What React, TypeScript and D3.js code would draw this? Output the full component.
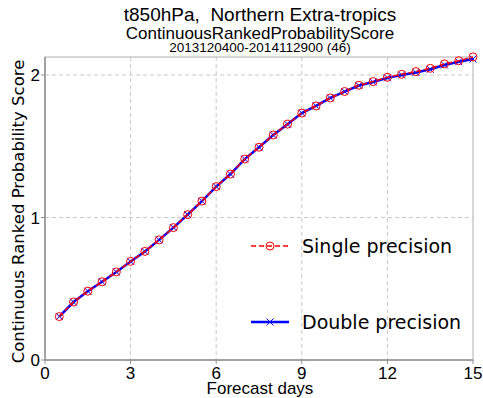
import React from 'react';
import * as d3 from 'd3';

const days = [0.5, 1, 1.5, 2, 2.5, 3, 3.5, 4, 4.5, 5, 5.5, 6, 6.5, 7, 7.5, 8, 8.5, 9, 9.5, 10, 10.5, 11, 11.5, 12, 12.5, 13, 13.5, 14, 14.5, 15];
const singlePrec = [0.305, 0.407, 0.483, 0.549, 0.618, 0.692, 0.762, 0.843, 0.929, 1.02, 1.115, 1.217, 1.305, 1.41, 1.493, 1.579, 1.655, 1.733, 1.783, 1.839, 1.884, 1.928, 1.954, 1.984, 2.005, 2.024, 2.047, 2.078, 2.1, 2.127];
const doublePrec = [0.305, 0.407, 0.483, 0.549, 0.618, 0.692, 0.762, 0.843, 0.929, 1.02, 1.115, 1.217, 1.305, 1.41, 1.493, 1.579, 1.655, 1.733, 1.783, 1.839, 1.884, 1.926, 1.951, 1.98, 2.0, 2.018, 2.04, 2.07, 2.093, 2.112];
const xTicks = [0, 3, 6, 9, 12, 15];
const yTicks = [0, 1, 2];

const W = 483;
const H = 398;
const M = { left: 45, right: 10, top: 57, bottom: 38 };

export default function App() {
  const x = d3.scaleLinear().domain([0, 15]).range([M.left, W - M.right]);
  const y = d3.scaleLinear().domain([0, 2]).range([H - M.bottom, 75]);
  const yTop = M.top;
  const yBot = H - M.bottom;
  const line = d3.line<number>().x((_, i) => x(days[i])).y((d) => y(d));
  const sans = 'Liberation Sans, Arial, sans-serif';
  const dv = 'DejaVu Sans, sans-serif';

  return (
    <svg width={W} height={H} style={{ position: 'absolute', left: 0, top: 0 }}>
      <rect width={W} height={H} fill="white" />
      {/* grid */}
      {xTicks.slice(1, -1).map((t) => (
        <line key={'gx' + t} x1={x(t)} x2={x(t)} y1={yTop} y2={yBot} stroke="#c8c8c8" strokeDasharray="4,3" strokeWidth={1} />
      ))}
      {yTicks.slice(1).map((t) => (
        <line key={'gy' + t} x1={x(0)} x2={x(15)} y1={y(t)} y2={y(t)} stroke="#c8c8c8" strokeDasharray="4,3" strokeWidth={1} />
      ))}
      {/* frame */}
      <rect x={x(0)} y={yTop} width={x(15) - x(0)} height={yBot - yTop} fill="none" stroke="#b0b0b0" strokeWidth={1} />
      <line x1={x(0)} x2={x(0)} y1={yTop} y2={yBot} stroke="#909090" strokeWidth={1.5} />
      <line x1={x(0)} x2={x(15)} y1={yBot} y2={yBot} stroke="#909090" strokeWidth={1.5} />
      {/* ticks */}
      {xTicks.map((t) => (
        <g key={'tx' + t}>
          <line x1={x(t)} x2={x(t)} y1={yBot} y2={yBot + 4} stroke="#909090" />
          <text x={x(t)} y={yBot + 19} textAnchor="middle" fontFamily={sans} fontSize={17} fill="#000">{t}</text>
        </g>
      ))}
      {yTicks.map((t) => (
        <g key={'ty' + t}>
          <line x1={x(0) - 4} x2={x(0)} y1={y(t)} y2={y(t)} stroke="#909090" />
          <text x={x(0) - 5} y={y(t) + 6} textAnchor="end" fontFamily={sans} fontSize={17} fill="#000">{t}</text>
        </g>
      ))}
      {/* series */}
      <path d={line(doublePrec) || ''} fill="none" stroke="#0000ff" strokeWidth={2.5} />
      {doublePrec.map((v, i) => (
        <path key={'dx' + i} d={`M${x(days[i]) - 3.5},${y(v) - 3.5}l7,7M${x(days[i]) - 3.5},${y(v) + 3.5}l7,-7`} stroke="#0000ff" strokeWidth={1} />
      ))}
      <path d={line(singlePrec) || ''} fill="none" stroke="#ff0000" strokeWidth={1.5} strokeDasharray="5,3" />
      {singlePrec.map((v, i) => (
        <circle key={'sc' + i} cx={x(days[i])} cy={y(v)} r={4} fill="none" stroke="#ff0000" strokeWidth={1} />
      ))}
      {/* legend */}
      <line x1={251} x2={289} y1={246} y2={246} stroke="#ff0000" strokeWidth={1.5} strokeDasharray="5,3" />
      <circle cx={270} cy={246} r={4} fill="none" stroke="#ff0000" strokeWidth={1} />
      <text x={302} y={253} fontFamily={dv} fontSize={19} fill="#000">Single precision</text>
      <line x1={251} x2={289} y1={322} y2={322} stroke="#0000ff" strokeWidth={2.5} />
      <path d="M266.5,318.5l7,7M266.5,325.5l7,-7" stroke="#0000ff" strokeWidth={1} />
      <text x={302} y={329} fontFamily={dv} fontSize={19} fill="#000">Double precision</text>
      {/* titles */}
      <text x={260} y={21} textAnchor="middle" fontFamily={sans} fontSize={19} fill="#000" style={{ whiteSpace: 'pre' }}>{'t850hPa,  Northern Extra-tropics'}</text>
      <text x={260} y={38.5} textAnchor="middle" fontFamily={sans} fontSize={17} fill="#000">ContinuousRankedProbabilityScore</text>
      <text x={260} y={52} textAnchor="middle" fontFamily={sans} fontSize={13.5} fill="#000">2013120400-2014112900 (46)</text>
      <text x={260} y={394} textAnchor="middle" fontFamily={sans} fontSize={17} fill="#000">Forecast days</text>
      <text transform={`translate(24,211.5) rotate(-90)`} textAnchor="middle" fontFamily={dv} fontSize={16.5} fill="#000">Continuous Ranked Probability Score</text>
    </svg>
  );
}
